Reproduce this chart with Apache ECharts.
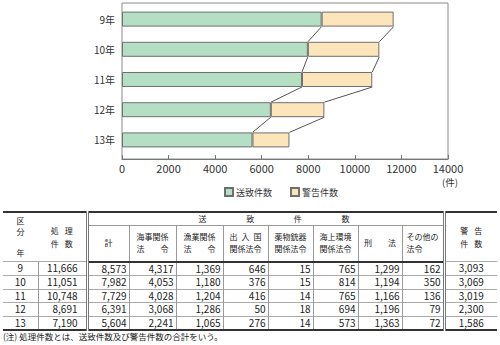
<!DOCTYPE html>
<html>
<head>
<meta charset="utf-8">
<script src="https://cdn.jsdelivr.net/npm/echarts@6/dist/echarts.min.js"></script>
<style>
  html, body { margin: 0; padding: 0; background: #fff; }
  #wrap { position: relative; width: 500px; height: 345px; overflow: hidden; font-family: "Noto Sans CJK JP", sans-serif; color: #222; }
  #chart { position: absolute; left: 0; top: 0; width: 500px; height: 200px; }
  #tbl { position: absolute; left: 3px; top: 211px; width: 494px; border-collapse: collapse; table-layout: fixed;
         border-top: 2px solid #333; border-bottom: 2px solid #333; }
  #tbl th, #tbl td { padding: 0; font-weight: normal; white-space: nowrap; overflow: hidden; }
  #tbl th { font-size: 8px; line-height: 12px; text-align: center; vertical-align: middle; }
  #tbl td { font-size: 10px; line-height: 12px; text-align: right; padding-right: 2px; border-left: 1px solid #999; border-top: 1px solid #aaa; }
  #tbl td.yr { text-align: center; padding-right: 0; border-left: none; }
  #tbl td.proc { padding-right: 8px; }
  #tbl td.warn { text-align: center; padding-right: 0; }
  #tbl .dbl { border-left: 3px double #777 !important; }
  #tbl tr.h2 th { border-bottom: 2px solid #333; }
  #tbl th.sub { border-left: 1px solid #999; }
  #tbl th.grp { border-bottom: 1px solid #999; }
  .jl { display: inline-block; width: 32px; text-align: justify; text-align-last: justify; }
  .ll { display: inline-block; width: 32px; text-align: left; }
  .jw { display: inline-block; width: 22px; text-align: justify; text-align-last: justify; }
  #note { position: absolute; left: 3px; top: 331px; font-size: 8.5px; line-height: 11px; white-space: nowrap; }
</style>
</head>
<body>
<div id="wrap">
  <div id="chart"></div>
  <table id="tbl"></table>
  <div id="note">(注) 処理件数とは、送致件数及び警告件数の合計をいう。</div>
</div>
<script>
// 年別の処理件数と内訳
const yearNums      = ['9', '10', '11', '12', '13'];
const processed     = [11666, 11051, 10748, 8691, 7190];
const sentTotal     = [8573, 7982, 7729, 6391, 5604];
const maritime      = [4317, 4053, 4028, 3068, 2241];
const fishery       = [1369, 1180, 1204, 1286, 1065];
const immigration   = [646, 376, 416, 50, 276];
const drugsFirearms = [15, 15, 14, 18, 14];
const marineEnv     = [765, 814, 765, 694, 573];
const penalCode     = [1299, 1194, 1166, 1196, 1363];
const otherLaws     = [162, 350, 136, 79, 72];
const warnings      = [3093, 3069, 3019, 2300, 1586];

const yearLabels = yearNums.map(y => y + '年');
const seriesNames = ['送致件数', '警告件数'];
const unitLabel = '(件)';

const FONT = '"Noto Sans CJK JP", sans-serif';
const BAR_W = 15;

// 棒の端同士を結ぶ区分線（送致件数の端と合計の端）
const totals = sentTotal.map((v, i) => v + warnings[i]);
const connectors = [];
for (let i = 0; i < yearNums.length - 1; i++) {
  connectors.push([sentTotal[i], i, sentTotal[i + 1], i + 1]);
  connectors.push([totals[i], i, totals[i + 1], i + 1]);
}

const chart = echarts.init(document.getElementById('chart'), null, { renderer: 'svg' });
chart.setOption({
  animation: false,
  textStyle: { fontFamily: FONT },
  grid: [
    { left: 122, top: 4, width: 326, height: 151 },
    { left: 122, top: 3, width: 326, height: 156, show: true, borderColor: '#8a8a8a', borderWidth: 1, backgroundColor: 'transparent' }
  ],
  legend: {
    data: seriesNames,
    top: 182,
    left: 219,
    itemWidth: 8,
    itemHeight: 8,
    itemGap: 18,
    icon: 'rect',
    textStyle: { fontSize: 9, color: '#333', fontFamily: FONT, padding: [0, 0, 0, -2] }
  },
  graphic: [
    { type: 'text', left: 442, top: 177, style: { text: unitLabel, fontSize: 9.5, fill: '#333', fontFamily: FONT } }
  ],
  xAxis: [
    { gridIndex: 0, type: 'value', min: 0, max: 14000, show: false },
    {
      gridIndex: 1, type: 'value', min: 0, max: 14000, interval: 2000,
      axisLine: { show: true, lineStyle: { color: '#777' } },
      axisTick: { show: true, inside: true, length: 4, lineStyle: { color: '#777' } },
      splitLine: { show: false },
      axisLabel: { fontSize: 11, lineHeight: 11, color: '#333', margin: 3, fontFamily: FONT, formatter: v => String(v) }
    }
  ],
  yAxis: [
    {
      gridIndex: 0, type: 'category', data: yearLabels, inverse: true,
      axisLine: { show: false }, axisTick: { show: false }, splitLine: { show: false },
      axisLabel: { fontSize: 10, color: '#333', margin: 7, fontFamily: FONT }
    },
    { gridIndex: 1, type: 'value', show: false }
  ],
  series: [
    {
      name: seriesNames[0], type: 'bar', stack: 'total', xAxisIndex: 0, yAxisIndex: 0,
      barWidth: BAR_W, data: sentTotal,
      itemStyle: { color: '#b4dfc5', borderColor: '#6f6f6f', borderWidth: 1 }
    },
    {
      name: seriesNames[1], type: 'bar', stack: 'total', xAxisIndex: 0, yAxisIndex: 0,
      barWidth: BAR_W, data: warnings,
      itemStyle: { color: '#fde5bb', borderColor: '#6f6f6f', borderWidth: 1 }
    },
    {
      type: 'custom', xAxisIndex: 0, yAxisIndex: 0, silent: true,
      encode: { x: [0, 2], y: [1, 3] },
      data: connectors,
      renderItem: function (params, api) {
        const p1 = api.coord([api.value(0), api.value(1)]);
        const p2 = api.coord([api.value(2), api.value(3)]);
        const h = BAR_W / 2;
        return {
          type: 'line',
          shape: { x1: p1[0], y1: p1[1] + h, x2: p2[0], y2: p2[1] - h },
          style: { stroke: '#555', lineWidth: 1 }
        };
      }
    }
  ]
});

// 内訳表
const fmt = n => n.toLocaleString('en-US');
const lines = (arr, cls) => arr.map(t => '<span class="' + cls + '">' + t + '</span>').join('<br>');
const subHeads = [
  '計',
  lines(['海事関係', '法令'], 'jl'),
  lines(['漁業関係', '法令'], 'jl'),
  lines(['出入国', '関係法令'], 'jl'),
  lines(['薬物銃器', '関係法令'], 'jl'),
  lines(['海上環境', '関係法令'], 'jl'),
  lines(['刑法'], 'jl'),
  lines(['その他の', '法令'], 'll')
];
const colW = [35, 49, 42, 47, 47, 45, 45, 45, 44, 42, 53];
let html = '<colgroup>' + colW.map(w => '<col style="width:' + w + 'px">').join('') + '</colgroup>';
html += '<tr style="height:13px">' +
  '<th rowspan="2" style="line-height:10.5px">区<br>分<br>&nbsp;<br>年</th>' +
  '<th rowspan="2" style="line-height:13px">' + lines(['処理', '件数'], 'jw') + '</th>' +
  '<th colspan="8" class="grp dbl" style="text-align:left;padding:0 93px 0 110px"><span style="display:flex;justify-content:space-between"><span>送</span><span>致</span><span>件</span><span>数</span></span></th>' +
  '<th rowspan="2" class="dbl" style="line-height:13px">' + lines(['警告', '件数'], 'jw') + '</th>' +
  '</tr>';
html += '<tr class="h2" style="height:36px">' +
  subHeads.map((h, i) => '<th class="sub' + (i === 0 ? ' dbl' : '') + '">' + h + '</th>').join('') +
  '</tr>';
const rowH = [13, 14, 13, 14, 13];
yearNums.forEach((y, i) => {
  const cells = [sentTotal, maritime, fishery, immigration, drugsFirearms, marineEnv, penalCode, otherLaws]
    .map((arr, k) => '<td' + (k === 0 ? ' class="dbl"' : '') + '>' + fmt(arr[i]) + '</td>').join('');
  html += '<tr style="height:' + rowH[i] + 'px">' +
    '<td class="yr">' + y + '</td>' +
    '<td class="proc">' + fmt(processed[i]) + '</td>' +
    cells +
    '<td class="warn dbl">' + fmt(warnings[i]) + '</td>' +
    '</tr>';
});
document.getElementById('tbl').innerHTML = html;
</script>
</body>
</html>
